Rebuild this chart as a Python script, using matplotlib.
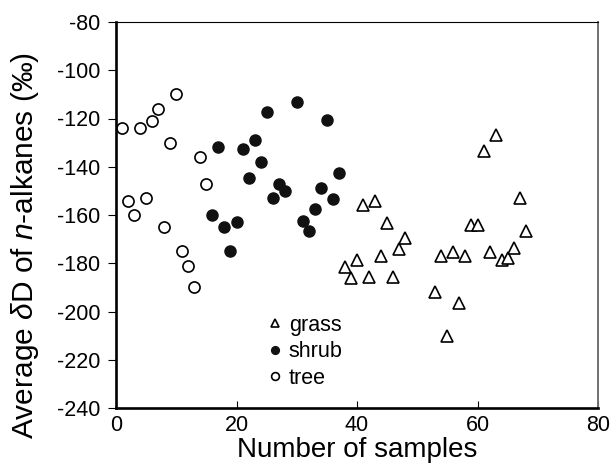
import matplotlib.pyplot as plt

plt.rcParams["font.family"] = ["Liberation Sans", "DejaVu Sans"]
plt.rcParams["axes.unicode_minus"] = False
plt.rcParams["mathtext.fontset"] = "custom"
plt.rcParams["mathtext.rm"] = "Liberation Sans"
plt.rcParams["mathtext.it"] = "Liberation Sans:italic"

# sample number and average dD (permil) per vegetation type
tree_x = [1, 2, 3, 4, 5, 6, 7, 8, 9, 10, 11, 12, 13, 14, 15]
tree_y = [-124, -154, -160, -124, -153, -121, -116, -165, -130, -110, -175, -181, -190, -136, -147]

shrub_x = [16, 17, 18, 19, 20, 21, 22, 23, 24, 25, 26, 27, 28, 30, 31, 32, 33, 34, 35, 36, 37]
shrub_y = [-160, -132, -165, -175, -163, -132.5, -144.5, -129, -138, -117.5, -153, -147, -150,
           -113, -162.5, -166.5, -157.5, -149, -120.5, -153.5, -142.5]

grass_x = [38, 39, 40, 41, 42, 43, 44, 45, 46, 47, 48, 53, 54, 55, 56, 57, 58, 59, 60, 61,
           62, 63, 64, 65, 66, 67, 68]
grass_y = [-181.5, -186, -178.5, -156, -185.5, -154, -177, -163.5, -185.5, -174, -169.5,
           -192, -177, -210, -175.5, -196.5, -177, -164, -164, -133.5, -175.5, -127, -178.5,
           -178, -173.5, -153, -166.5]

fig = plt.figure(figsize=(6.1, 4.72), dpi=100)
ax = fig.add_axes([116 / 610, 1 - 408 / 472, 482 / 610, 386 / 472])

ax.plot(grass_x, grass_y, "^", ms=8, mfc="white", mec="black", mew=1.2, label="grass")
ax.plot(shrub_x, shrub_y, "o", ms=8, mfc="#111111", mec="#111111", mew=1.0, label="shrub")
ax.plot(tree_x, tree_y, "o", ms=8, mfc="white", mec="black", mew=1.2, label="tree")

ax.set_xlim(0, 80)
ax.set_ylim(-240, -80)
ax.set_xticks([0, 20, 40, 60, 80])
ax.set_yticks(range(-240, -79, 20))

ax.spines["left"].set_linewidth(1.9)
ax.spines["bottom"].set_linewidth(1.9)
ax.spines["top"].set_linewidth(0.8)
ax.spines["right"].set_linewidth(1.4)
ax.spines["right"].set_color("#707070")

ax.tick_params(axis="x", direction="in", length=5, width=0.8, labelsize=15.5, pad=5)
ax.tick_params(axis="y", direction="out", length=5.5, width=0.8, labelsize=15.5, pad=6)

ax.set_xlabel("Number of samples", fontsize=20, labelpad=1)
ax.set_ylabel(r"Average $\delta$D of $n$-alkanes (‰)", fontsize=21.5)
ax.yaxis.set_label_coords(-0.156, 0.422)

ax.legend(loc="lower left", bbox_to_anchor=(0.267, 0.0), frameon=False, fontsize=15.5,
          handletextpad=0.15, labelspacing=0.25, markerscale=0.7, handlelength=1.0)

fig.savefig("out.png", dpi=100)
